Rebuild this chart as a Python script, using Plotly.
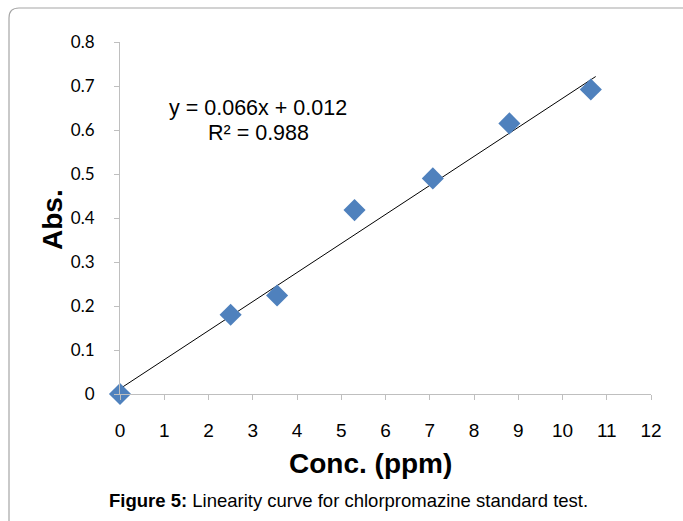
import numpy as np
import plotly.graph_objects as go

# Data
conc = [0.0, 2.5, 3.55, 5.3, 7.07, 8.8, 10.64]
absorb = [0.0, 0.18, 0.224, 0.418, 0.49, 0.615, 0.692]
slope = 0.066
intercept = 0.012
r2 = 0.988
x_ticks = list(range(0, 13))
y_ticks = [0, 0.1, 0.2, 0.3, 0.4, 0.5, 0.6, 0.7, 0.8]
y_tick_text = ["0", "0.1", "0.2", "0.3", "0.4", "0.5", "0.6", "0.7", "0.8"]

W, H = 683, 521
L, R, T, B = 120, 32, 42, 127
PW, PH = W - L - R, H - T - B

def px(xp):
    return (xp - L) / PW

def py(yp):
    return (H - B - yp) / PH

fit_x = np.array([0.0, 10.75])
fit_y = slope * fit_x + intercept

fig = go.Figure()
fig.add_trace(go.Scatter(x=fit_x, y=fit_y, mode="lines",
                         line=dict(color="black", width=1), showlegend=False,
                         hoverinfo="skip", cliponaxis=False))
fig.add_trace(go.Scatter(x=conc, y=absorb, mode="markers",
                         marker=dict(symbol="diamond", size=17, color="#4f81bd",
                                     line=dict(width=0)),
                         showlegend=False, cliponaxis=False))

fig.update_layout(
    width=W, height=H,
    margin=dict(l=L, r=R, t=T, b=B),
    paper_bgcolor="white", plot_bgcolor="white",
    xaxis=dict(range=[0, 12], tickvals=x_ticks, showgrid=False, zeroline=False,
               showline=True, linecolor="#bfbfbf", linewidth=1,
               ticks="outside", ticklen=5, tickcolor="#bfbfbf",
               tickfont=dict(family="Liberation Sans, Arial", size=19, color="black"),
               ticklabelstandoff=14),
    yaxis=dict(range=[0, 0.8], tickvals=y_ticks, ticktext=y_tick_text, showgrid=False,
               zeroline=False, showline=True, linecolor="#bfbfbf", linewidth=1,
               ticks="outside", ticklen=5, tickcolor="#bfbfbf",
               tickfont=dict(family="Lato, Open Sans", size=17, color="black"),
               ticklabelstandoff=16),
)

title_font = dict(family="Liberation Sans, Arial", size=28, color="black")
fig.add_annotation(xref="paper", yref="paper", x=px(370), y=py(463),
                   xanchor="center", yanchor="middle",
                   text="<b>Conc. (ppm)</b>", showarrow=False, font=title_font)
fig.add_annotation(xref="paper", yref="paper", x=px(53), y=py(220),
                   xanchor="center", yanchor="middle", textangle=-90,
                   text="<b>Abs.</b>", showarrow=False, font=title_font)

ann_font = dict(family="Liberation Sans, Arial", size=21.5, color="black")
fig.add_annotation(xref="paper", yref="paper", x=px(258), y=py(108),
                   xanchor="center", yanchor="middle",
                   text="y = 0.066x + 0.012", showarrow=False, font=ann_font)
fig.add_annotation(xref="paper", yref="paper", x=px(258), y=py(133),
                   xanchor="center", yanchor="middle",
                   text="R² = %.3f" % r2, showarrow=False, font=ann_font)
fig.add_annotation(xref="paper", yref="paper", x=px(348), y=py(500),
                   xanchor="center", yanchor="middle",
                   text="<b>Figure 5:</b> Linearity curve for chlorpromazine standard test.",
                   showarrow=False,
                   font=dict(family="Liberation Sans, Arial", size=18.5, color="black"))

# frame border with rounded top-left corner
x0, y0 = px(9), py(530)
x1, y1 = px(9), py(18)
x2, y2 = px(19), py(8)
x3, y3 = px(700), py(8)
xc, yc = px(9), py(8)
fig.add_shape(type="path", xref="paper", yref="paper",
              path=f"M {x0} {y0} L {x1} {y1} Q {xc} {yc} {x2} {y2} L {x3} {y3}",
              line=dict(color="#a6a6a6", width=1.2), layer="below")

fig.write_html("out.html", config={"displayModeBar": False},
               post_script="document.body.style.margin='0px';")
